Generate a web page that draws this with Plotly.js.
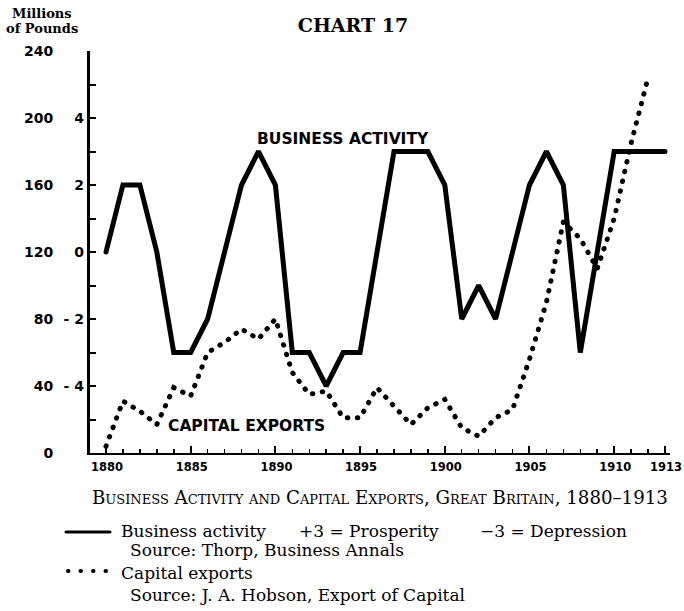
<!DOCTYPE html>
<html><head><meta charset="utf-8">
<script src="https://cdn.plot.ly/plotly-3.0.1.min.js"></script>
<style>
html,body{margin:0;padding:0;background:#fff;}
#chart{width:684px;height:611px;}
.scatterlayer .js-line, .shapelayer path { stroke-linecap: round !important; }
</style></head><body><div id="chart"></div>
<script>
// ---- data ----
const years = [1880,1881,1882,1883,1884,1885,1886,1887,1888,1889,1890,1891,1892,1893,1894,1895,1896,1897,1898,1899,1900,1901,1902,1903,1904,1905,1906,1907,1908,1909,1910,1911,1912,1913];
// Business activity index (+3 = prosperity, -3 = depression)
const businessActivity = [0,2,2,0,-3,-3,-2,0,2,3,2,-3,-3,-4,-3,-3,0,3,3,3,2,-2,-1,-2,0,2,3,2,-3,0,3,3,3,3];
// Capital exports, millions of pounds
const exportYears = [1880,1881,1882,1883,1884,1885,1886,1887,1888,1889,1890,1891,1892,1893,1894,1895,1896,1897,1898,1899,1900,1901,1902,1903,1904,1905,1906,1907,1908,1909,1910,1911,1912];
const capitalExports = [4,31,25,17,39,34,60,66,74,68,80,48,35,37,21,21,39,28,17,27,32,15,10,21,26,56,90,138,128,110,140,185,224];
// tick labels
const poundTicks = [0,40,80,120,160,200,240];
const indexTicks = [-4,-2,0,2,4];
const indexTickText = ['- 4','- 2','0','2','4'];
const yearTicks = [1880,1885,1890,1895,1900,1905,1910,1913];

// ---- layout helpers (pixel -> paper) ----
const PL=90, PT=51, PW=580, PH=402;
const px = x => (x-PL)/PW;
const py = y => (PT+PH-y)/PH;

const tickFontY = {family:'DejaVu Sans', size:14, weight:'bold', color:'#000'};
const tickFontX = {family:'DejaVu Sans', size:11.5, weight:'bold', color:'#000'};
const serif = {family:'DejaVu Serif', size:17, color:'#000'};

const traces = [
  {x: years, y: businessActivity, yaxis:'y2', type:'scatter', mode:'lines',
   line:{color:'#000', width:5}, hoverinfo:'skip', showlegend:false},
  {x: exportYears, y: capitalExports, yaxis:'y', type:'scatter', mode:'lines',
   line:{color:'#000', width:5, dash:'0.5px,9.5px'}, hoverinfo:'skip', showlegend:false}
];

const ann = [];
function txt(text, x, y, font, xanchor, extra){
  ann.push(Object.assign({text, x:px(x), y:py(y), xref:'paper', yref:'paper',
    xanchor: xanchor||'left', yanchor:'middle', showarrow:false, font}, extra||{}));
}
txt('Millions', 42, 14, {family:'DejaVu Serif', size:13, weight:'bold', color:'#000'}, 'center');
txt('of Pounds', 42, 28, {family:'DejaVu Serif', size:13, weight:'bold', color:'#000'}, 'center');
txt('Business Activity and Capital Exports, Great Britain, 1880–1913', 380, 497,
    {family:'DejaVu Serif', size:18.2, color:'#000', variant:'small-caps'}, 'center');
txt('Business activity', 119, 531, serif);
txt('+3 = Prosperity', 297, 531, serif);
txt('−3 = Depression', 478, 531, serif);
txt('Source: Thorp, Business Annals', 128, 550, serif);
txt('Capital exports', 119, 573, serif);
txt('Source: J. A. Hobson, Export of Capital', 128, 595, serif);
// in-plot series labels (data coordinates)
ann.push({text:'BUSINESS ACTIVITY', x:1894.0, y:187.5, xref:'x', yref:'y', showarrow:false,
  xanchor:'center', yanchor:'middle', font:{family:'DejaVu Sans', size:15.5, weight:'bold', color:'#000'}});
ann.push({text:'CAPITAL EXPORTS', x:1888.3, y:16, xref:'x', yref:'y', showarrow:false,
  xanchor:'center', yanchor:'middle', font:{family:'DejaVu Sans', size:15.5, weight:'bold', color:'#000'}});

const shapes = [
  {type:'line', xref:'paper', yref:'paper', x0:px(66), x1:px(110), y0:py(532), y1:py(532),
   line:{color:'#000', width:3}},
  {type:'line', xref:'paper', yref:'paper', x0:px(68), x1:px(106), y0:py(571), y1:py(571),
   line:{color:'#000', width:4, dash:'0.5px,12px'}}
];

const layout = {
  width:684, height:611,
  margin:{l:PL, r:684-PL-PW, t:PT, b:611-PT-PH, pad:0},
  paper_bgcolor:'#fff', plot_bgcolor:'#fff',
  showlegend:false,
  title:{text:'CHART 17', font:{family:'DejaVu Serif', size:19, weight:'bold', color:'#000'},
    x:353/684, xref:'container', xanchor:'center', y:1-25.5/611, yref:'container', yanchor:'middle'},
  xaxis:{range:[1879.056,1913.295], tickmode:'array', tickvals:yearTicks, ticktext:yearTicks.map(String),
    ticks:'inside', ticklen:7, tickwidth:2, tickcolor:'#000', showline:true, linewidth:2, linecolor:'#000',
    showgrid:false, zeroline:false, tickfont:tickFontX, ticklabelstandoff:2, ticklabelshift:1,
    ticklabeloverflow:'allow',
    minor:{tickmode:'linear', tick0:1880, dtick:1, ticks:'inside', ticklen:4, tickwidth:1.5, tickcolor:'#000', showgrid:false},
    fixedrange:true},
  yaxis:{range:[0,240], tickmode:'array', tickvals:poundTicks, ticktext:poundTicks.map(String),
    ticks:'inside', ticklen:6, tickwidth:2, tickcolor:'#000', showline:true, linewidth:3, linecolor:'#000',
    showgrid:false, zeroline:false, tickfont:tickFontY, ticklabelstandoff:31,
    minor:{tickmode:'linear', tick0:0, dtick:20, ticks:'inside', ticklen:6, tickwidth:2, tickcolor:'#000', showgrid:false},
    fixedrange:true},
  yaxis2:{range:[-6,6], overlaying:'y', side:'left', anchor:'x', tickmode:'array', tickvals:indexTicks,
    ticktext:indexTickText, ticks:'', showline:false, showgrid:false, zeroline:false,
    tickfont:tickFontY, ticklabelstandoff:5, fixedrange:true},
  annotations: ann,
  shapes: shapes
};

Plotly.newPlot('chart', traces, layout, {displayModeBar:false, staticPlot:true});
</script></body></html>
